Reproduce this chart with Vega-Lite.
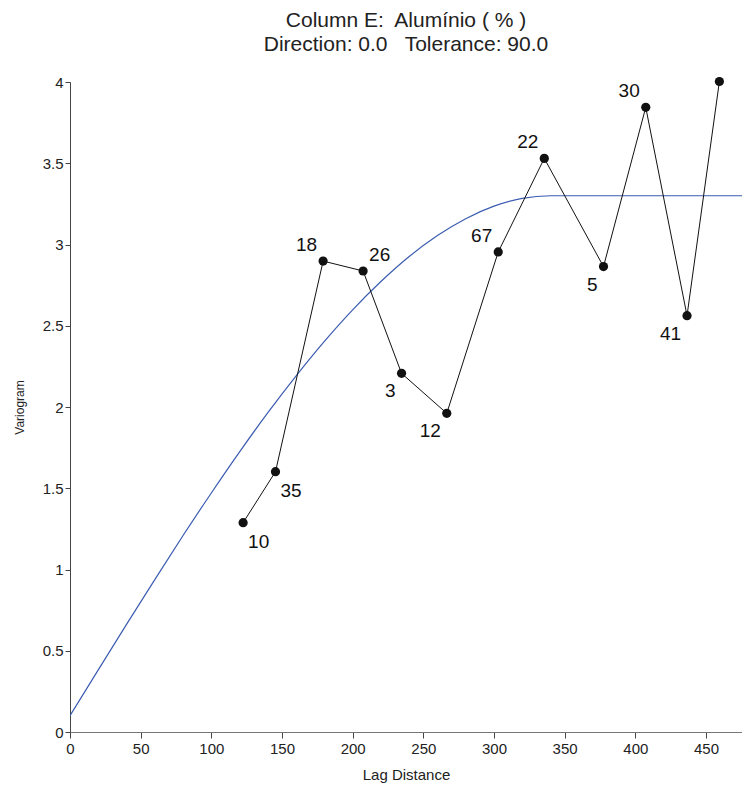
{
  "$schema": "https://vega.github.io/schema/vega-lite/v6.json",
  "width": 672,
  "height": 650,
  "autosize": {"type": "none"},
  "padding": {"left": 70, "top": 82, "right": 0, "bottom": 56},
  "background": "white",
  "title": {
    "text": ["Column E:\u00a0 Alumínio ( % )", "Direction: 0.0\u00a0\u00a0 Tolerance: 90.0"],
    "font": "Liberation Sans",
    "fontSize": 21,
    "fontWeight": "normal",
    "color": "#222222",
    "anchor": "middle",
    "frame": "group",
    "offset": 20,
    "lineHeight": 24
  },
  "config": {
    "view": {"stroke": null},
    "font": "Liberation Sans"
  },
  "datasets": {
    "experimental": [
      {"lag": 122.5, "gamma": 1.288, "npairs": 10},
      {"lag": 145.4, "gamma": 1.602, "npairs": 35},
      {"lag": 179.1, "gamma": 2.898, "npairs": 18},
      {"lag": 207.4, "gamma": 2.837, "npairs": 26},
      {"lag": 234.6, "gamma": 2.207, "npairs": 3},
      {"lag": 266.6, "gamma": 1.961, "npairs": 12},
      {"lag": 303.0, "gamma": 2.954, "npairs": 67},
      {"lag": 335.6, "gamma": 3.530, "npairs": 22},
      {"lag": 377.5, "gamma": 2.864, "npairs": 5},
      {"lag": 407.4, "gamma": 3.844, "npairs": 30},
      {"lag": 436.6, "gamma": 2.562, "npairs": 41},
      {"lag": 459.5, "gamma": 4.003, "npairs": null}
    ],
    "model": [
      {"lag": 0, "gamma": 0.1},
      {"lag": 20, "gamma": 0.382},
      {"lag": 40, "gamma": 0.662},
      {"lag": 60, "gamma": 0.938},
      {"lag": 80, "gamma": 1.209},
      {"lag": 100, "gamma": 1.471},
      {"lag": 120, "gamma": 1.724},
      {"lag": 140, "gamma": 1.965},
      {"lag": 160, "gamma": 2.192},
      {"lag": 180, "gamma": 2.404},
      {"lag": 200, "gamma": 2.598},
      {"lag": 220, "gamma": 2.772},
      {"lag": 240, "gamma": 2.926},
      {"lag": 260, "gamma": 3.055},
      {"lag": 280, "gamma": 3.159},
      {"lag": 300, "gamma": 3.236},
      {"lag": 320, "gamma": 3.284},
      {"lag": 340, "gamma": 3.3},
      {"lag": 475.5, "gamma": 3.3}
    ]
  },
  "encoding": {
    "x": {
      "field": "lag",
      "type": "quantitative",
      "scale": {"domain": [0, 475.5], "nice": false, "zero": false},
      "axis": {
        "title": "Lag Distance",
        "values": [0, 50, 100, 150, 200, 250, 300, 350, 400, 450],
        "format": "d",
        "labelFlush": false,
        "grid": false,
        "domainColor": "#777777",
        "tickColor": "#444444",
        "tickSize": 6,
        "labelFont": "Liberation Sans",
        "labelFontSize": 15,
        "labelColor": "#222222",
        "labelPadding": 3,
        "titleFont": "Liberation Sans",
        "titleFontSize": 15,
        "titleFontWeight": "normal",
        "titleColor": "#222222",
        "titlePadding": 11
      }
    },
    "y": {
      "field": "gamma",
      "type": "quantitative",
      "scale": {"domain": [0, 4], "nice": false},
      "axis": {
        "title": "Variogram",
        "values": [0, 0.5, 1, 1.5, 2, 2.5, 3, 3.5, 4],
        "format": "~g",
        "labelFlush": false,
        "grid": false,
        "domainColor": "#444444",
        "tickColor": "#444444",
        "tickSize": 5,
        "labelFont": "Liberation Sans",
        "labelFontSize": 15,
        "labelColor": "#222222",
        "labelPadding": 2,
        "titleFont": "Liberation Sans",
        "titleFontSize": 12,
        "titleFontWeight": "normal",
        "titleColor": "#222222",
        "titlePadding": 16
      }
    }
  },
  "layer": [
    {
      "data": {"name": "model"},
      "mark": {"type": "line", "color": "#3a5bb0", "strokeWidth": 1.2, "interpolate": "monotone", "clip": true},
      "encoding": {}
    },
    {
      "data": {"name": "experimental"},
      "mark": {"type": "line", "color": "#111111", "strokeWidth": 1},
      "encoding": {}
    },
    {
      "data": {"name": "experimental"},
      "mark": {"type": "circle", "color": "#111111", "opacity": 1, "size": 85},
      "encoding": {}
    },
    {
      "data": {"name": "experimental"},
      "transform": [{"filter": {"field": "npairs", "oneOf": [18, 67, 22, 30]}}],
      "mark": {"type": "text", "align": "right", "baseline": "alphabetic", "dx": -6, "dy": -10, "fontSize": 19, "font": "Liberation Sans", "color": "#111111"},
      "encoding": {"text": {"field": "npairs", "type": "quantitative"}}
    },
    {
      "data": {"name": "experimental"},
      "transform": [{"filter": {"field": "npairs", "oneOf": [26]}}],
      "mark": {"type": "text", "align": "left", "baseline": "alphabetic", "dx": 6, "dy": -10, "fontSize": 19, "font": "Liberation Sans", "color": "#111111"},
      "encoding": {"text": {"field": "npairs", "type": "quantitative"}}
    },
    {
      "data": {"name": "experimental"},
      "transform": [{"filter": {"field": "npairs", "oneOf": [10, 35]}}],
      "mark": {"type": "text", "align": "left", "baseline": "alphabetic", "dx": 5, "dy": 25, "fontSize": 19, "font": "Liberation Sans", "color": "#111111"},
      "encoding": {"text": {"field": "npairs", "type": "quantitative"}}
    },
    {
      "data": {"name": "experimental"},
      "transform": [{"filter": {"field": "npairs", "oneOf": [3, 12, 5, 41]}}],
      "mark": {"type": "text", "align": "right", "baseline": "alphabetic", "dx": -6, "dy": 24, "fontSize": 19, "font": "Liberation Sans", "color": "#111111"},
      "encoding": {"text": {"field": "npairs", "type": "quantitative"}}
    }
  ]
}
